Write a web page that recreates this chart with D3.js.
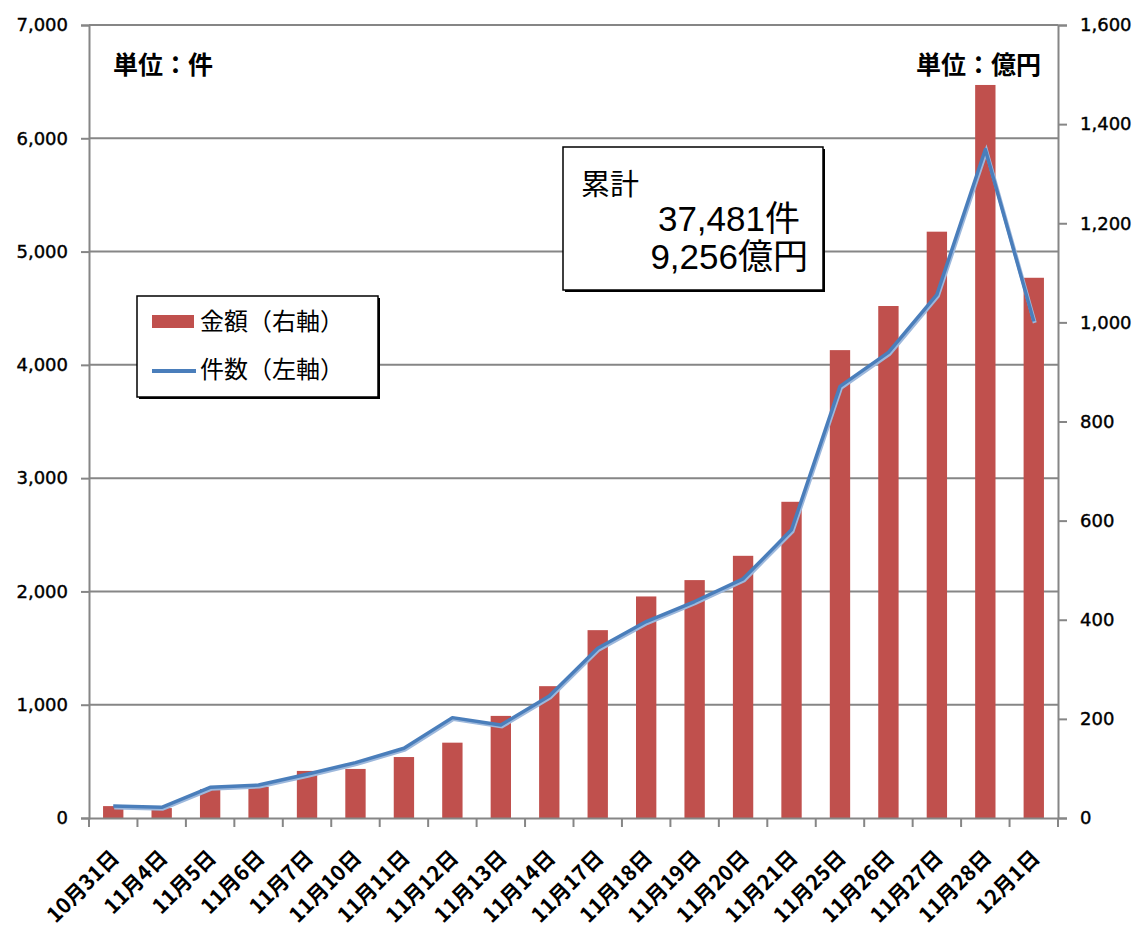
<!DOCTYPE html>
<html>
<head>
<meta charset="utf-8">
<script src="https://cdn.jsdelivr.net/npm/d3@7"></script>
<style>
  body { margin: 0; background: #fff; }
  svg { display: block; }
</style>
</head>
<body>
<div id="wrapper"></div>
<script>
// data
const categories = ['10月31日', '11月4日', '11月5日', '11月6日', '11月7日', '11月10日', '11月11日',
  '11月12日', '11月13日', '11月14日', '11月17日', '11月18日', '11月19日', '11月20日',
  '11月21日', '11月25日', '11月26日', '11月27日', '11月28日', '12月1日']
// 金額 (億円, right axis)
const amounts = [24, 20, 58, 63, 95, 99, 123, 152, 206, 266, 379, 447, 480, 529, 638,
  944, 1033, 1183, 1479, 1090]
// 件数 (件, left axis)
const counts = [105, 94, 271, 291, 386, 489, 616, 886, 821, 1078, 1499, 1734, 1911, 2111,
  2544, 3810, 4110, 4620, 5901, 4384]
const leftTicks = [0, 1000, 2000, 3000, 4000, 5000, 6000, 7000]
const rightTicks = [0, 200, 400, 600, 800, 1000, 1200, 1400, 1600]
const legendLabels = ['金額（右軸）', '件数（左軸）']
const totalLines = ['累計', '37,481件', '9,256億円']

function drawChart() {
  const dims = {
    width: 1135,
    height: 929,
    left: 89,
    right: 1058,
    top: 25,
    bottom: 818,
  }
  const gridColor = '#868686'
  const barColor = '#C0504D'
  const lineColor = '#4A7EBB'

  const svg = d3.select('#wrapper').append('svg')
    .attr('width', dims.width)
    .attr('height', dims.height)

  // scales
  const xScale = d3.scaleBand()
    .domain(categories)
    .range([dims.left, dims.right])
  const barWidth = xScale.bandwidth() * 0.42

  const yLeft = d3.scaleLinear().domain([0, 7000]).range([dims.bottom, dims.top])
  const yRight = d3.scaleLinear().domain([0, 1600]).range([dims.bottom, dims.top])

  // gridlines
  svg.append('g').selectAll('line')
    .data(leftTicks.filter(d => d > 0))
    .join('line')
    .attr('x1', dims.left).attr('x2', dims.right)
    .attr('y1', d => yLeft(d)).attr('y2', d => yLeft(d))
    .attr('stroke', gridColor).attr('stroke-width', 2)

  // left axis
  const leftAxis = svg.append('g')
    .attr('transform', `translate(${dims.left},0)`)
    .call(d3.axisLeft(yLeft).tickValues(leftTicks).tickFormat(d3.format(',')).tickSize(8).tickPadding(13))
  // right axis
  const rightAxis = svg.append('g')
    .attr('transform', `translate(${dims.right},0)`)
    .call(d3.axisRight(yRight).tickValues(rightTicks).tickFormat(d3.format(',')).tickSize(9).tickPadding(13))

  ;[leftAxis, rightAxis].forEach(ax => {
    ax.select('.domain').attr('stroke', gridColor).attr('stroke-width', 2)
    ax.selectAll('.tick line').attr('stroke', gridColor).attr('stroke-width', 2)
    ax.selectAll('.tick text')
      .attr('fill', '#000')
      .style('font-family', '"DejaVu Sans", sans-serif')
      .style('font-size', '18px')
      .attr('stroke', '#000').attr('stroke-width', 0.4)
  })

  // bars
  svg.append('g').selectAll('rect')
    .data(amounts)
    .join('rect')
    .attr('x', (d, i) => xScale(categories[i]) + (xScale.bandwidth() - barWidth) / 2)
    .attr('y', d => yRight(d))
    .attr('width', barWidth)
    .attr('height', d => yRight(0) - yRight(d))
    .attr('fill', barColor)

  // bottom axis
  const xAxis = svg.append('g')
    .attr('transform', `translate(0,${dims.bottom})`)
    .call(d3.axisBottom(xScale).tickSize(0).tickFormat(''))
  xAxis.select('.domain').attr('stroke', gridColor).attr('stroke-width', 2)
  // category boundary ticks
  svg.append('g').selectAll('line')
    .data(d3.range(categories.length + 1))
    .join('line')
    .attr('x1', i => dims.left + i * xScale.step())
    .attr('x2', i => dims.left + i * xScale.step())
    .attr('y1', dims.bottom).attr('y2', dims.bottom + 9)
    .attr('stroke', gridColor).attr('stroke-width', 2)

  // category labels, rotated
  svg.append('g').selectAll('text')
    .data(categories)
    .join('text')
    .attr('transform', d => `translate(${xScale(d) + xScale.bandwidth() / 2 + 2},854) rotate(-45)`)
    .attr('text-anchor', 'end')
    .attr('dy', '0.35em')
    .style('font-family', '"Noto Sans CJK JP", sans-serif')
    .style('font-weight', 'bold')
    .style('font-size', '21px')
    .text(d => d)

  // count line
  const line = d3.line()
    .x((d, i) => xScale(categories[i]) + xScale.bandwidth() / 2)
    .y(d => yLeft(d))
  svg.append('path')
    .datum(counts)
    .attr('d', line)
    .attr('fill', 'none')
    .attr('stroke', '#9db8dc')
    .attr('stroke-width', 4)
    .attr('transform', 'translate(1,1.5)')
  svg.append('path')
    .datum(counts)
    .attr('d', line)
    .attr('fill', 'none')
    .attr('stroke', lineColor)
    .attr('stroke-width', 3.5)
    .attr('stroke-linejoin', 'round')

  // unit labels
  svg.append('text')
    .attr('x', 113).attr('y', 74)
    .style('font-family', '"Noto Sans CJK JP", sans-serif')
    .style('font-weight', 'bold')
    .style('font-size', '25px')
    .text('単位：件')
  svg.append('text')
    .attr('x', 1041).attr('y', 74)
    .attr('text-anchor', 'end')
    .style('font-family', '"Noto Sans CJK JP", sans-serif')
    .style('font-weight', 'bold')
    .style('font-size', '25px')
    .text('単位：億円')

  // legend box
  const legend = svg.append('g')
  legend.append('rect')
    .attr('x', 139).attr('y', 298).attr('width', 241).attr('height', 101)
    .attr('fill', '#000')
  legend.append('rect')
    .attr('x', 137).attr('y', 296).attr('width', 241).attr('height', 101)
    .attr('fill', '#fff').attr('stroke', '#000').attr('stroke-width', 1.5)
  legend.append('rect')
    .attr('x', 152).attr('y', 315).attr('width', 42).attr('height', 13)
    .attr('fill', barColor)
  legend.append('line')
    .attr('x1', 152).attr('x2', 196).attr('y1', 371).attr('y2', 371)
    .attr('stroke', lineColor).attr('stroke-width', 4)
  legend.selectAll('text.lbl')
    .data(legendLabels)
    .join('text')
    .attr('class', 'lbl')
    .attr('x', 200)
    .attr('y', (d, i) => 322 + i * 48)
    .attr('dy', '0.35em')
    .style('font-family', '"Noto Sans CJK JP", sans-serif')
    .style('font-size', '24px')
    .text(d => d)

  // total annotation box
  const box = svg.append('g')
  box.append('rect')
    .attr('x', 565).attr('y', 149).attr('width', 260).attr('height', 143)
    .attr('fill', '#000')
  box.append('rect')
    .attr('x', 563).attr('y', 147).attr('width', 260).attr('height', 143)
    .attr('fill', '#fff').attr('stroke', '#000').attr('stroke-width', 1.5)
  box.append('text')
    .attr('x', 581).attr('y', 195)
    .style('font-family', '"Noto Sans CJK JP", sans-serif')
    .style('font-size', '29px')
    .text(totalLines[0])
  box.append('text')
    .attr('x', 800).attr('y', 231)
    .attr('text-anchor', 'end')
    .style('font-family', '"Liberation Sans", "Noto Sans CJK JP", sans-serif')
    .style('font-size', '35px')
    .text(totalLines[1])
  box.append('text')
    .attr('x', 808).attr('y', 269)
    .attr('text-anchor', 'end')
    .style('font-family', '"Liberation Sans", "Noto Sans CJK JP", sans-serif')
    .style('font-size', '35px')
    .text(totalLines[2])
}

drawChart()
</script>
</body>
</html>
